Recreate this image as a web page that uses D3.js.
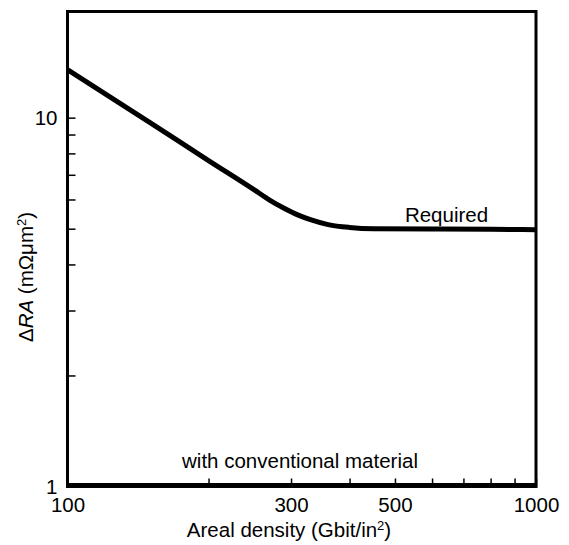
<!DOCTYPE html>
<html>
<head>
<meta charset="utf-8">
<script src="https://cdn.jsdelivr.net/npm/d3@7/dist/d3.min.js"></script>
<style>
  html, body { margin: 0; padding: 0; background: #fff; }
  svg { display: block; }
  text { font-family: "Liberation Sans", Arial, sans-serif; fill: #000; }
</style>
</head>
<body>
<svg id="chart" width="569" height="545"></svg>
<script>
// Areal density (Gbit/in^2) and the required ΔRA (mΩμm²)
const requiredDensity = [100, 150, 200, 250, 270, 290, 310, 330, 360, 400, 450, 600, 800, 1000];
const requiredRA      = [13.5, 9.7, 7.65, 6.38, 5.98, 5.68, 5.45, 5.29, 5.13, 5.04, 5.0, 4.99, 4.98, 4.97];

// ΔRA reachable with conventional material
const conventionalDensity = [100, 1000];
const conventionalRA      = [1.0, 1.0];

const xTickValues = [100, 200, 300, 400, 500, 600, 700, 800, 900, 1000];
const xTickLabels = [100, 300, 500, 1000];
const yTickValues = [1, 2, 3, 4, 5, 6, 7, 8, 9, 10];
const yTickLabels = [1, 10];

const svg = d3.select("#chart");
const plotLeft = 67.5, plotRight = 536, plotTop = 11.5, plotBottom = 486.5;
const fontSize = "20.5px";

const x = d3.scaleLog().domain([100, 1000]).range([plotLeft, plotRight]);
const y = d3.scaleLog().domain([1, 19.4]).range([plotBottom, plotTop]);

// axes with inward ticks
const xAxis = d3.axisBottom(x)
  .tickValues(xTickValues)
  .tickSizeInner(-8).tickSizeOuter(0).tickPadding(11)
  .tickFormat(d => xTickLabels.includes(d) ? String(d) : "");
const yAxis = d3.axisLeft(y)
  .tickValues(yTickValues)
  .tickSizeInner(-8).tickSizeOuter(0).tickPadding(10)
  .tickFormat(d => yTickLabels.includes(d) ? String(d) : "");

const gx = svg.append("g").attr("transform", `translate(0,${plotBottom})`).call(xAxis);
const gy = svg.append("g").attr("transform", `translate(${plotLeft},0)`).call(yAxis);
[gx, gy].forEach(g => {
  g.select(".domain").remove();
  g.selectAll(".tick line").attr("stroke", "#000").attr("stroke-width", 1.5);
  g.selectAll(".tick text")
    .style("font-family", '"Liberation Sans", Arial, sans-serif')
    .style("font-size", fontSize).attr("fill", "#000");
});

// frame
svg.append("rect")
  .attr("x", plotLeft).attr("y", plotTop)
  .attr("width", plotRight - plotLeft).attr("height", plotBottom - plotTop)
  .attr("fill", "none").attr("stroke", "#000").attr("stroke-width", 3);

const line = d3.line()
  .x(d => x(d[0])).y(d => y(d[1]))
  .curve(d3.curveMonotoneX);

svg.append("path")
  .datum(conventionalDensity.map((d, i) => [d, conventionalRA[i]]))
  .attr("d", line)
  .attr("fill", "none").attr("stroke", "#000").attr("stroke-width", 5)
  .attr("transform", "translate(0,-1)");

svg.append("path")
  .datum(requiredDensity.map((d, i) => [d, requiredRA[i]]))
  .attr("d", line)
  .attr("fill", "none").attr("stroke", "#000").attr("stroke-width", 5)
  .attr("stroke-linejoin", "round");

// curve labels
svg.append("text")
  .attr("x", 446.5).attr("y", 221.5)
  .attr("text-anchor", "middle").style("font-size", fontSize)
  .text("Required");
svg.append("text")
  .attr("x", 300).attr("y", 468)
  .attr("text-anchor", "middle").style("font-size", fontSize)
  .text("with conventional material");

// x axis title
const xt = svg.append("text")
  .attr("x", 289).attr("y", 537)
  .attr("text-anchor", "middle").style("font-size", fontSize);
xt.append("tspan").text("Areal density (Gbit/in");
xt.append("tspan").attr("dy", -7).style("font-size", "13px").text("2");
xt.append("tspan").attr("dy", 7).text(")");

// y axis title
const yt = svg.append("text")
  .attr("transform", "translate(33,277) rotate(-90)")
  .attr("text-anchor", "middle").style("font-size", fontSize);
yt.append("tspan").text("Δ");
yt.append("tspan").style("font-style", "italic").text("RA");
yt.append("tspan").text(" (mΩμm");
yt.append("tspan").attr("dy", -7).style("font-size", "13px").text("2");
yt.append("tspan").attr("dy", 7).text(")");
</script>
</body>
</html>
